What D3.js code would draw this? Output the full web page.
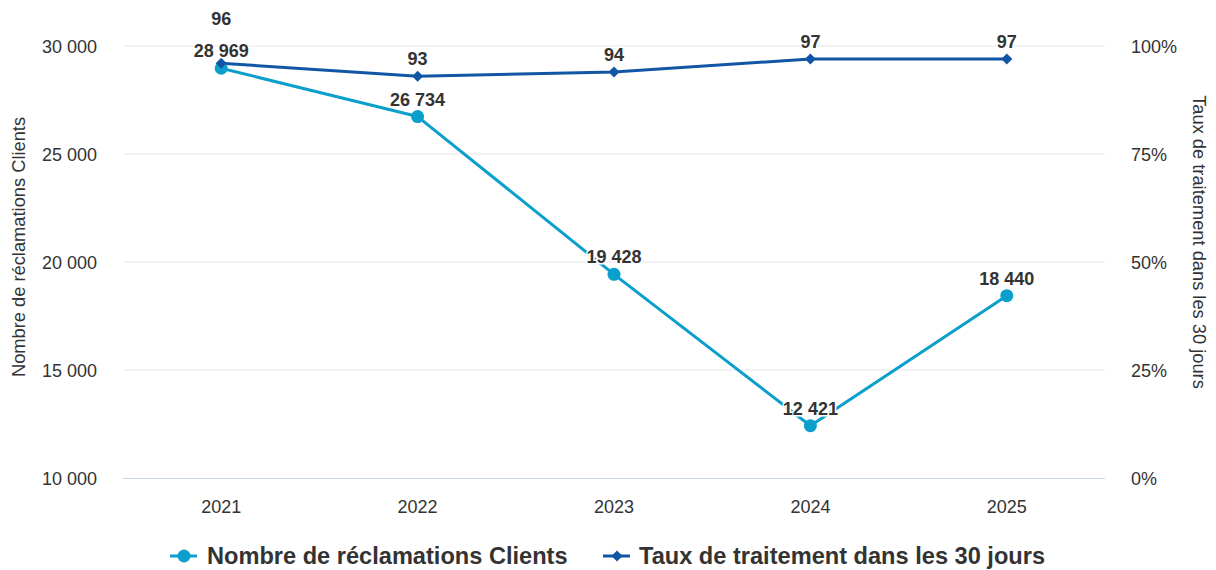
<!DOCTYPE html>
<html><head><meta charset="utf-8">
<script src="https://cdn.jsdelivr.net/npm/d3@7"></script>
<style>body{margin:0;background:#fff}svg{display:block;font-family:"Liberation Sans",Arial,sans-serif}</style>
</head><body><svg id="c" width="1216" height="570"></svg>
<script>
const categories = ["2021","2022","2023","2024","2025"];
const reclamations = [28969, 26734, 19428, 12421, 18440];
const taux = [96, 93, 94, 97, 97];
const leftTicks = [10000, 15000, 20000, 25000, 30000];
const rightTicks = [0, 25, 50, 75, 100];
const seriesNames = ["Nombre de réclamations Clients", "Taux de traitement dans les 30 jours"];
const colors = ["#0b9fcc", "#1156a4"];

const svg = d3.select("#c");
const L = 123, R = 1105, T = 46, B = 478;
const x = d3.scaleBand().domain(categories).range([L, R]);
const yL = d3.scaleLinear().domain([10000, 30000]).range([B, T]);
const yR = d3.scaleLinear().domain([0, 100]).range([B, T]);
const cx = d => x(d) + x.bandwidth() / 2;
const fmt = v => d3.format(",")(v).replace(/,/g, " ");
const FF = "Liberation Sans, Arial, sans-serif";

// gridlines
svg.append("g").selectAll("line").data(leftTicks.slice(1)).join("line")
  .attr("x1", L).attr("x2", R).attr("y1", d => yL(d)).attr("y2", d => yL(d))
  .attr("stroke", "#e6e6e6").attr("stroke-width", 1);
svg.append("line").attr("x1", L).attr("x2", R).attr("y1", B + 0.5).attr("y2", B + 0.5)
  .attr("stroke", "#ccd6eb").attr("stroke-width", 1);

// left axis labels
const axL = svg.append("g").attr("transform", `translate(${L - 26},0)`)
  .call(d3.axisLeft(yL).tickValues(leftTicks).tickFormat(fmt).tickSize(0).tickPadding(0));
axL.select(".domain").remove();
axL.attr("font-size", 18).attr("font-family", FF);
axL.selectAll("text").attr("fill", "#333").attr("dy", "0.35em");

// right axis labels
const axR = svg.append("g").attr("transform", `translate(${R + 26},0)`)
  .call(d3.axisRight(yR).tickValues(rightTicks).tickFormat(d => d + "%").tickSize(0).tickPadding(0));
axR.select(".domain").remove();
axR.attr("font-size", 18).attr("font-family", FF);
axR.selectAll("text").attr("fill", "#333").attr("dy", "0.35em");

// x axis labels
const axX = svg.append("g").attr("transform", `translate(0,${B + 22})`)
  .call(d3.axisBottom(x).tickSize(0).tickPadding(0));
axX.select(".domain").remove();
axX.attr("font-size", 18).attr("font-family", FF);
axX.selectAll("text").attr("fill", "#333");

// axis titles
svg.append("text").attr("transform", `translate(24.5,${(T + B) / 2 - 15}) rotate(-90)`)
  .attr("text-anchor", "middle").attr("font-size", 18.3).attr("fill", "#333").text(seriesNames[0]);
svg.append("text").attr("transform", `translate(1193,${(T + B) / 2 - 20}) rotate(90)`)
  .attr("text-anchor", "middle").attr("font-size", 18.3).attr("fill", "#333").text(seriesNames[1]);

// lines
const line1 = d3.line().x((d, i) => cx(categories[i])).y(d => yL(d));
const line2 = d3.line().x((d, i) => cx(categories[i])).y(d => yR(d));
svg.append("path").attr("d", line1(reclamations)).attr("fill", "none").attr("stroke", colors[0]).attr("stroke-width", 3).attr("stroke-linejoin", "round");
svg.append("path").attr("d", line2(taux)).attr("fill", "none").attr("stroke", colors[1]).attr("stroke-width", 3).attr("stroke-linejoin", "round");

// markers
svg.append("g").selectAll("circle").data(reclamations).join("circle")
  .attr("cx", (d, i) => cx(categories[i])).attr("cy", d => yL(d)).attr("r", 6.5).attr("fill", colors[0]);
const diamond = (px, py, s) => `M${px},${py - s}L${px + s},${py}L${px},${py + s}L${px - s},${py}Z`;
svg.append("g").selectAll("path").data(taux).join("path")
  .attr("d", (d, i) => diamond(cx(categories[i]), yR(d), 5.5)).attr("fill", colors[1]);

// data labels
function label(px, py, txt) {
  const g = svg.append("g");
  g.append("text").attr("x", px).attr("y", py).attr("text-anchor", "middle").attr("font-size", 18).attr("font-weight", "bold")
    .attr("stroke", "#fff").attr("stroke-width", 3).attr("stroke-linejoin", "round").attr("fill", "none").text(txt);
  g.append("text").attr("x", px).attr("y", py).attr("text-anchor", "middle").attr("font-size", 18).attr("font-weight", "bold")
    .attr("fill", "#333").text(txt);
}
const countBase = reclamations.map(d => yL(d) - 11);
reclamations.forEach((d, i) => label(cx(categories[i]), countBase[i], fmt(d)));
taux.forEach((d, i) => {
  let base = yR(d) - 11;
  if (Math.abs(base - countBase[i]) < 18) base = countBase[i] - 32;
  label(cx(categories[i]), base, d);
});

// legend
const lg = svg.append("g").attr("transform", "translate(0,556)");
lg.append("line").attr("x1", 170).attr("x2", 197).attr("y1", 0).attr("y2", 0).attr("stroke", colors[0]).attr("stroke-width", 3);
lg.append("circle").attr("cx", 184).attr("cy", 0).attr("r", 6.5).attr("fill", colors[0]);
lg.append("text").attr("x", 207).attr("y", 8).attr("font-size", 23.6).attr("font-weight", "bold").attr("fill", "#333").text(seriesNames[0]);
lg.append("line").attr("x1", 603).attr("x2", 630).attr("y1", 0).attr("y2", 0).attr("stroke", colors[1]).attr("stroke-width", 3);
lg.append("path").attr("d", diamond(617, 0, 5.5)).attr("fill", colors[1]);
lg.append("text").attr("x", 639).attr("y", 8).attr("font-size", 23.6).attr("font-weight", "bold").attr("fill", "#333").text(seriesNames[1]);
</script></body></html>
